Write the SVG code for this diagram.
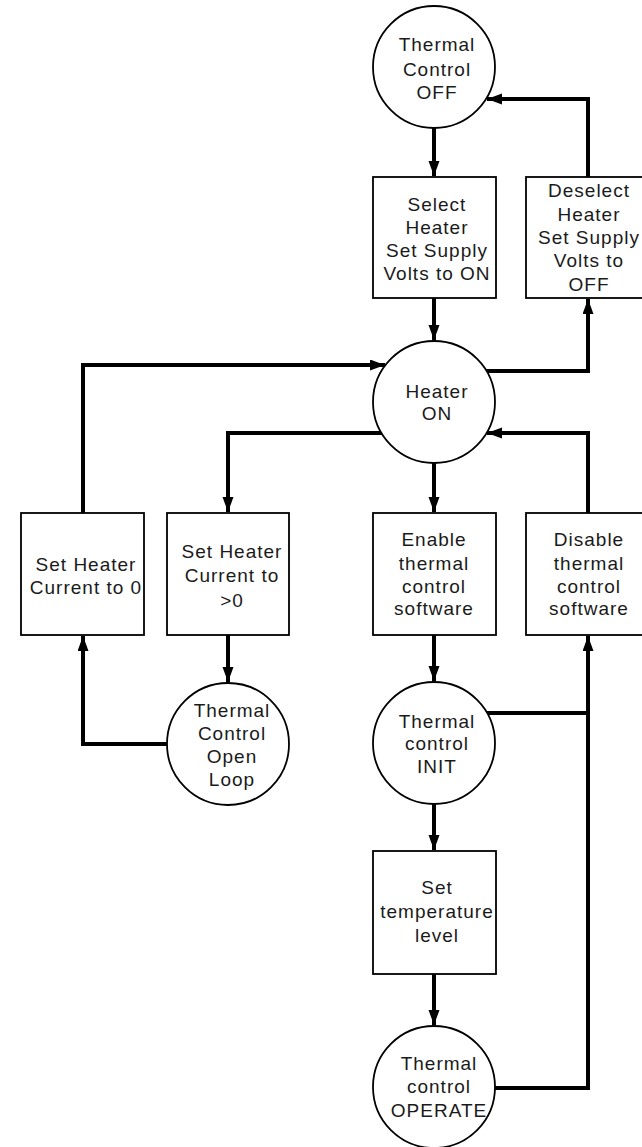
<svg xmlns="http://www.w3.org/2000/svg" width="642" height="1147" viewBox="0 0 642 1147">
<style>
.shape{fill:#fff;stroke:#000;stroke-width:1.8}
.lbl{font-family:"Liberation Sans",Arial,sans-serif;font-size:19px;letter-spacing:1px;text-anchor:middle;fill:#1a1a1a}
.conn{fill:none;stroke:#000;stroke-width:4;stroke-linejoin:miter}
</style>
<defs>
<marker id="ah" markerUnits="userSpaceOnUse" markerWidth="16" markerHeight="12" refX="15" refY="5.5" orient="auto">
<path d="M0,0 L15,5.5 L0,11 z" fill="#000"/>
</marker>
</defs>
<rect width="642" height="1147" fill="#fff"/>
<g id="connectors">
<path class="conn" d="M434,127 V176" marker-end="url(#ah)"/>
<path class="conn" d="M434,298 V340" marker-end="url(#ah)"/>
<path class="conn" d="M486,371 H588 V299" marker-end="url(#ah)"/>
<path class="conn" d="M588,177 V99 H487" marker-end="url(#ah)"/>
<path class="conn" d="M382,433 H228 V512" marker-end="url(#ah)"/>
<path class="conn" d="M83,513 V365 H385" marker-end="url(#ah)"/>
<path class="conn" d="M228,635 V682" marker-end="url(#ah)"/>
<path class="conn" d="M167,744 H83 V636" marker-end="url(#ah)"/>
<path class="conn" d="M434,463 V512" marker-end="url(#ah)"/>
<path class="conn" d="M434,635 V681" marker-end="url(#ah)"/>
<path class="conn" d="M487,713 H588"/>
<path class="conn" d="M495,1088 H588 V636" marker-end="url(#ah)"/>
<path class="conn" d="M588,513 V433 H487" marker-end="url(#ah)"/>
<path class="conn" d="M434,804 V850" marker-end="url(#ah)"/>
<path class="conn" d="M434,974 V1025" marker-end="url(#ah)"/>
</g>
<g id="n-off">
<circle class="shape" cx="434" cy="67" r="61"/>
<text class="lbl" x="437" y="51">Thermal</text>
<text class="lbl" x="437" y="76">Control</text>
<text class="lbl" x="437" y="99">OFF</text>
</g>
<g id="n-select">
<rect class="shape" x="373" y="177" width="123" height="121"/>
<text class="lbl" x="437" y="211">Select</text>
<text class="lbl" x="437" y="234">Heater</text>
<text class="lbl" x="437" y="257">Set Supply</text>
<text class="lbl" x="437" y="280">Volts to ON</text>
</g>
<g id="n-deselect">
<rect class="shape" x="526" y="177" width="123" height="121"/>
<text class="lbl" x="589" y="197">Deselect</text>
<text class="lbl" x="589" y="221">Heater</text>
<text class="lbl" x="589" y="244">Set Supply</text>
<text class="lbl" x="589" y="267">Volts to</text>
<text class="lbl" x="589" y="291">OFF</text>
</g>
<g id="n-heater-on">
<circle class="shape" cx="434" cy="402" r="61"/>
<text class="lbl" x="437" y="398">Heater</text>
<text class="lbl" x="437" y="420">ON</text>
</g>
<g id="n-set0">
<rect class="shape" x="21" y="513" width="123" height="122"/>
<text class="lbl" x="86" y="571">Set Heater</text>
<text class="lbl" x="86" y="594">Current to 0</text>
</g>
<g id="n-setgt0">
<rect class="shape" x="167" y="513" width="122" height="122"/>
<text class="lbl" x="232" y="558">Set Heater</text>
<text class="lbl" x="232" y="582">Current to</text>
<text class="lbl" x="232" y="607">&gt;0</text>
</g>
<g id="n-openloop">
<circle class="shape" cx="228" cy="744" r="61"/>
<text class="lbl" x="232" y="717">Thermal</text>
<text class="lbl" x="232" y="740">Control</text>
<text class="lbl" x="232" y="763">Open</text>
<text class="lbl" x="232" y="786">Loop</text>
</g>
<g id="n-enable">
<rect class="shape" x="373" y="513" width="123" height="122"/>
<text class="lbl" x="434" y="546">Enable</text>
<text class="lbl" x="434" y="570">thermal</text>
<text class="lbl" x="434" y="593">control</text>
<text class="lbl" x="434" y="615">software</text>
</g>
<g id="n-disable">
<rect class="shape" x="526" y="513" width="123" height="122"/>
<text class="lbl" x="589" y="546">Disable</text>
<text class="lbl" x="589" y="570">thermal</text>
<text class="lbl" x="589" y="593">control</text>
<text class="lbl" x="589" y="615">software</text>
</g>
<g id="n-init">
<circle class="shape" cx="434" cy="743" r="61"/>
<text class="lbl" x="437" y="728">Thermal</text>
<text class="lbl" x="437" y="750">control</text>
<text class="lbl" x="437" y="773">INIT</text>
</g>
<g id="n-settemp">
<rect class="shape" x="373" y="851" width="123" height="123"/>
<text class="lbl" x="437" y="894">Set</text>
<text class="lbl" x="437" y="918">temperature</text>
<text class="lbl" x="437" y="942">level</text>
</g>
<g id="n-operate">
<circle class="shape" cx="434" cy="1087" r="61"/>
<text class="lbl" x="439" y="1070">Thermal</text>
<text class="lbl" x="439" y="1093">control</text>
<text class="lbl" x="439" y="1117">OPERATE</text>
</g>
</svg>
